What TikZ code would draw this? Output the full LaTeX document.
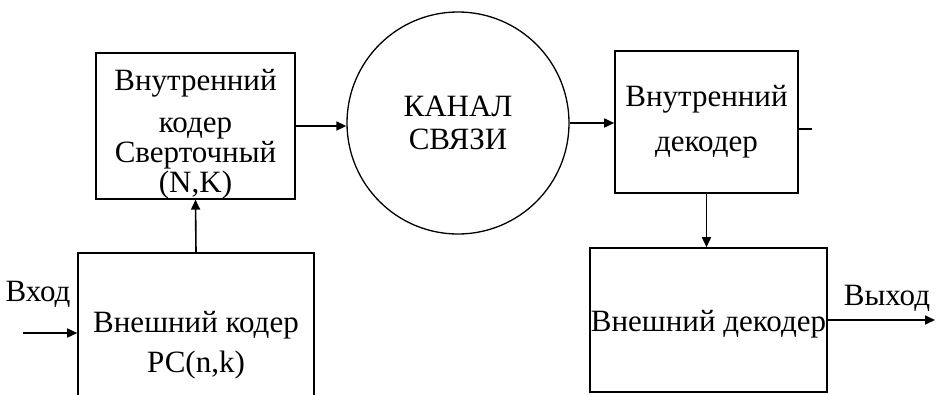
\documentclass[tikz,border=0pt]{standalone}
\usepackage{fontspec}
\setmainfont{Liberation Serif}
\usetikzlibrary{arrows.meta}
\begin{document}
\begin{tikzpicture}[x=1pt,y=-1pt,line width=1.6pt,
  blok/.style={draw,rectangle,inner sep=0pt,align=center},
  strelka/.style={-{Triangle[length=10pt,width=9pt]}},
  font=\fontsize{31}{33}\selectfont]
\useasboundingbox (0,0) rectangle (936,394);
\clip (0,0) rectangle (936,394);
% blocks
\node[blok,minimum width=199pt,minimum height=144pt,font=\fontsize{31}{30}\selectfont] (incoder) at (195.5,126)
  {\rule{0pt}{37pt}Внутренний\\[12pt]кодер\\Сверточный\\(N,K)};
\node[blok,minimum width=236pt,minimum height=184pt,font=\fontsize{31}{40}\selectfont] (outcoder) at (196,345)
  {Внешний кодер\\РС(n,k)};
\node[draw,circle,line width=1.3pt,inner sep=0pt,minimum size=222pt,align=center] (channel) at (458,123)
  {КАНАЛ\\СВЯЗИ};
\node[blok,minimum width=183pt,minimum height=142pt,font=\fontsize{31}{45}\selectfont] (indec) at (706.5,122)
  {Внутренний\\декодер};
\node[blok,minimum width=237pt,minimum height=144pt] (outdec) at (708.5,320)
  {\rule{0pt}{30pt}Внешний декодер};
% in / out
\coordinate (vhod) at (23,333);
\coordinate (vyhod) at (935,322);
\coordinate (stub) at (812,129);
\node (vhodlbl) at (38,294) {Вход};
\node (vyhodlbl) at (887,298) {Выход};
% connectors
\draw[strelka] (vhod) -- (vhod -| outcoder.west);
\draw[strelka] (outcoder.north) -- (incoder.south);
\draw[strelka] (incoder.east) -- (incoder.east -| channel.west);
\draw[strelka] (channel.east) -- (channel.east -| indec.west);
\draw (stub -| indec.east) -- (stub);
\draw[strelka] (indec.south) -- (indec.south |- outdec.north);
\draw[strelka] (outdec.east) -- (outdec.east -| vyhod);
\end{tikzpicture}
\end{document}
